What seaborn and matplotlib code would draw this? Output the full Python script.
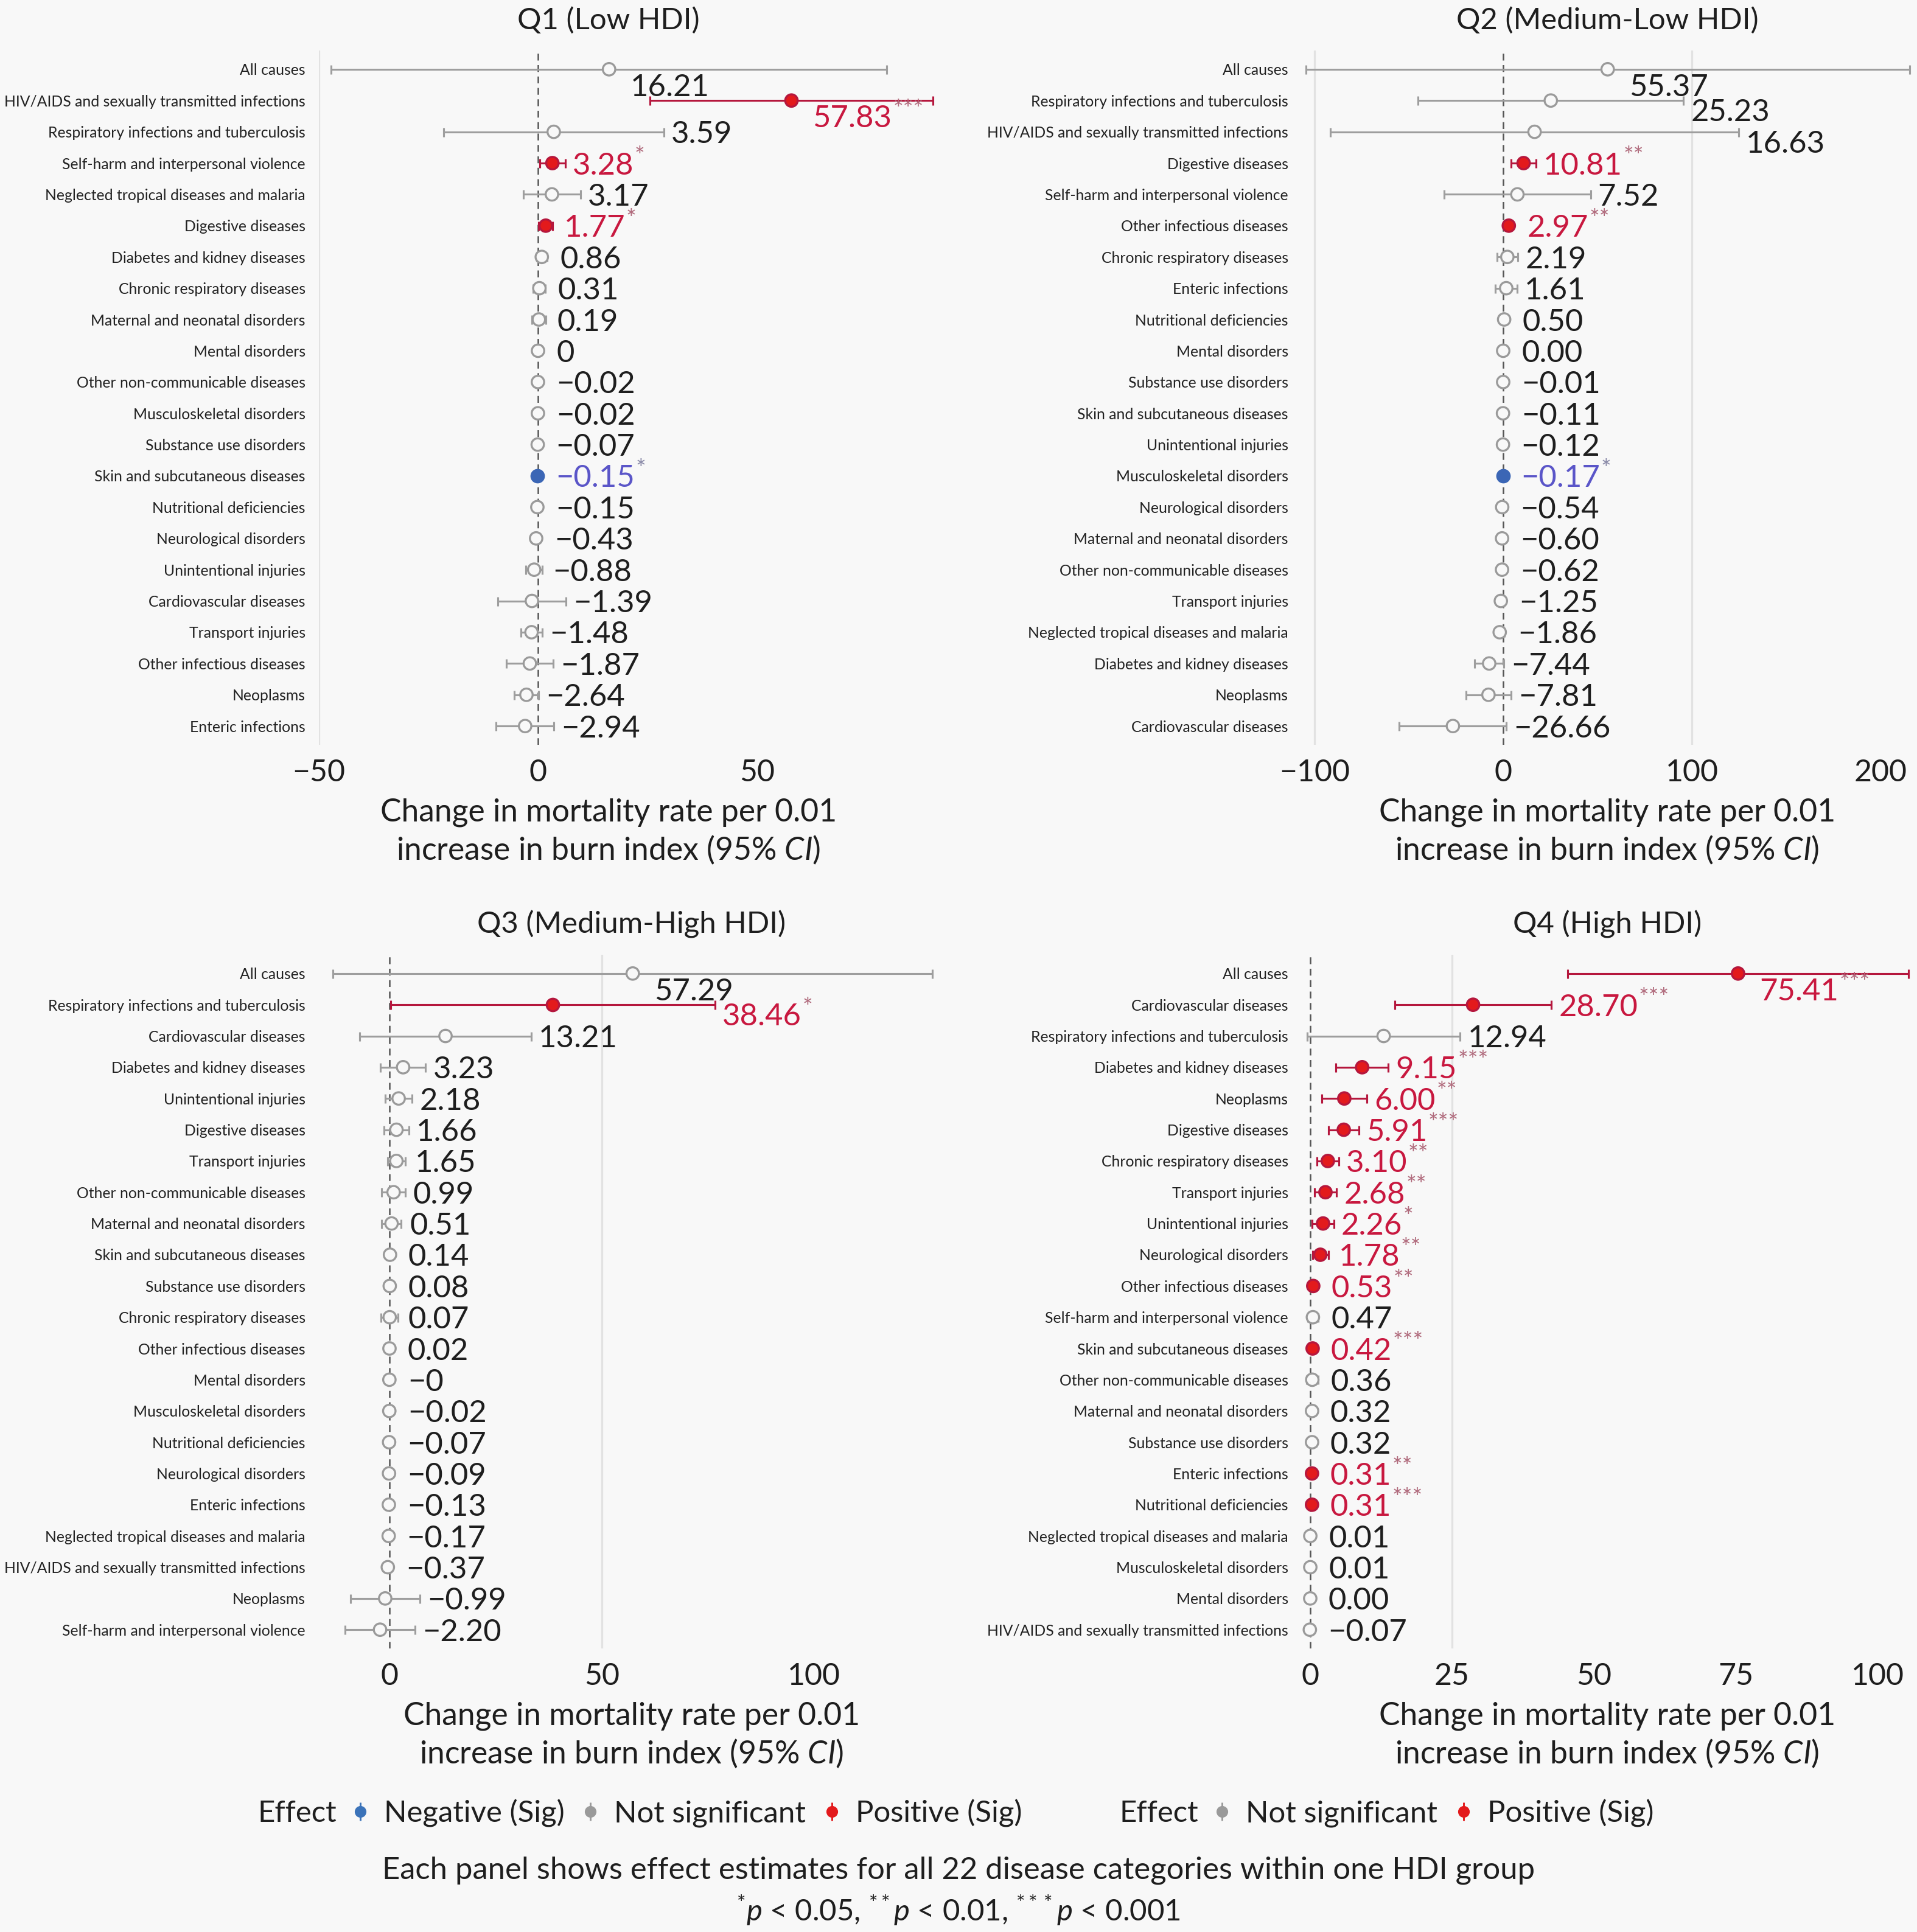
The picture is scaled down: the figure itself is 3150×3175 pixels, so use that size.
import matplotlib
matplotlib.use("Agg")
import numpy as np
import pandas as pd
import matplotlib.pyplot as plt
from matplotlib.lines import Line2D
from matplotlib.legend_handler import HandlerTuple
import seaborn as sns

# ---- data ----
causes_q1 = ["All causes", "HIV/AIDS and sexually transmitted infections",
             "Respiratory infections and tuberculosis", "Self-harm and interpersonal violence",
             "Neglected tropical diseases and malaria", "Digestive diseases",
             "Diabetes and kidney diseases", "Chronic respiratory diseases",
             "Maternal and neonatal disorders", "Mental disorders",
             "Other non-communicable diseases", "Musculoskeletal disorders",
             "Substance use disorders", "Skin and subcutaneous diseases",
             "Nutritional deficiencies", "Neurological disorders", "Unintentional injuries",
             "Cardiovascular diseases", "Transport injuries", "Other infectious diseases",
             "Neoplasms", "Enteric infections"]
labels_q1 = ["16.21", "57.83", "3.59", "3.28", "3.17", "1.77", "0.86", "0.31", "0.19", "0",
             "-0.02", "-0.02", "-0.07", "-0.15", "-0.15", "-0.43", "-0.88", "-1.39", "-1.48",
             "-1.87", "-2.64", "-2.94"]
lo_q1 = [-47.19, 25.53, -21.51, 0.38, -3.33, 0.17, -0.34, -1.09, -1.41, -0.40, -0.62, -0.42,
         -0.57, -0.28, -1.05, -1.33, -2.78, -9.19, -3.88, -7.17, -5.44, -9.54]
hi_q1 = [79.61, 90.13, 28.69, 6.18, 9.67, 3.37, 2.06, 1.71, 1.79, 0.40, 0.58, 0.38,
         0.43, -0.02, 0.75, 0.47, 1.02, 6.41, 0.92, 3.43, 0.16, 3.66]
stars_q1 = ["", "***", "", "*", "", "*", "", "", "", "", "", "", "", "*", "", "", "", "",
            "", "", "", ""]

causes_q2 = ["All causes", "Respiratory infections and tuberculosis",
             "HIV/AIDS and sexually transmitted infections", "Digestive diseases",
             "Self-harm and interpersonal violence", "Other infectious diseases",
             "Chronic respiratory diseases", "Enteric infections", "Nutritional deficiencies",
             "Mental disorders", "Substance use disorders", "Skin and subcutaneous diseases",
             "Unintentional injuries", "Musculoskeletal disorders", "Neurological disorders",
             "Maternal and neonatal disorders", "Other non-communicable diseases",
             "Transport injuries", "Neglected tropical diseases and malaria",
             "Diabetes and kidney diseases", "Neoplasms", "Cardiovascular diseases"]
labels_q2 = ["55.37", "25.23", "16.63", "10.81", "7.52", "2.97", "2.19", "1.61", "0.50", "0.00",
             "-0.01", "-0.11", "-0.12", "-0.17", "-0.54", "-0.60", "-0.62", "-1.25", "-1.86",
             "-7.44", "-7.81", "-26.66"]
lo_q2 = [-104.63, -45.17, -91.57, 4.21, -31.28, 1.77, -3.21, -4.19, -1.00, -0.60, -0.61, -0.81,
         -1.62, -0.27, -2.04, -2.20, -2.32, -3.25, -4.36, -15.24, -19.81, -55.06]
hi_q2 = [215.37, 95.63, 124.83, 17.41, 46.32, 4.17, 7.59, 7.41, 2.00, 0.60, 0.59, 0.59,
         1.38, -0.07, 0.96, 1.00, 1.08, 0.75, 0.64, 0.36, 4.19, 1.74]
stars_q2 = ["", "", "", "**", "", "**", "", "", "", "", "", "", "", "*", "", "", "", "",
            "", "", "", ""]

causes_q3 = ["All causes", "Respiratory infections and tuberculosis", "Cardiovascular diseases",
             "Diabetes and kidney diseases", "Unintentional injuries", "Digestive diseases",
             "Transport injuries", "Other non-communicable diseases",
             "Maternal and neonatal disorders", "Skin and subcutaneous diseases",
             "Substance use disorders", "Chronic respiratory diseases",
             "Other infectious diseases", "Mental disorders", "Musculoskeletal disorders",
             "Nutritional deficiencies", "Neurological disorders", "Enteric infections",
             "Neglected tropical diseases and malaria",
             "HIV/AIDS and sexually transmitted infections", "Neoplasms",
             "Self-harm and interpersonal violence"]
labels_q3 = ["57.29", "38.46", "13.21", "3.23", "2.18", "1.66", "1.65", "0.99", "0.51", "0.14",
             "0.08", "0.07", "0.02", "-0", "-0.02", "-0.07", "-0.09", "-0.13", "-0.17", "-0.37",
             "-0.99", "-2.20"]
lo_q3 = [-13.31, 0.26, -6.99, -2.07, -1.02, -1.24, -0.45, -1.81, -1.79, -0.56, -0.52, -1.93,
         -0.78, -0.50, -0.52, -0.77, -1.09, -0.83, -0.77, -1.17, -9.19, -10.45]
hi_q3 = [127.89, 76.66, 33.41, 8.53, 5.38, 4.56, 3.75, 3.79, 2.81, 0.84, 0.68, 2.07,
         0.82, 0.50, 0.48, 0.63, 0.91, 0.57, 0.43, 0.43, 7.21, 6.05]
stars_q3 = ["", "*", "", "", "", "", "", "", "", "", "", "", "", "", "", "", "", "", "", "",
            "", ""]

causes_q4 = ["All causes", "Cardiovascular diseases", "Respiratory infections and tuberculosis",
             "Diabetes and kidney diseases", "Neoplasms", "Digestive diseases",
             "Chronic respiratory diseases", "Transport injuries", "Unintentional injuries",
             "Neurological disorders", "Other infectious diseases",
             "Self-harm and interpersonal violence", "Skin and subcutaneous diseases",
             "Other non-communicable diseases", "Maternal and neonatal disorders",
             "Substance use disorders", "Enteric infections", "Nutritional deficiencies",
             "Neglected tropical diseases and malaria", "Musculoskeletal disorders",
             "Mental disorders", "HIV/AIDS and sexually transmitted infections"]
labels_q4 = ["75.41", "28.70", "12.94", "9.15", "6.00", "5.91", "3.10", "2.68", "2.26", "1.78",
             "0.53", "0.47", "0.42", "0.36", "0.32", "0.32", "0.31", "0.31", "0.01", "0.01",
             "0.00", "-0.07"]
lo_q4 = [45.41, 14.90, -0.56, 4.55, 2.00, 3.26, 1.20, 0.73, 0.36, 0.38, 0.23, -0.43, 0.22,
         -0.64, -0.38, -0.48, 0.16, 0.16, -0.49, -0.49, -0.50, -0.47]
hi_q4 = [105.41, 42.50, 26.44, 13.75, 10.00, 8.56, 5.00, 4.63, 4.16, 3.18, 0.83, 1.37, 0.62,
         1.36, 1.02, 1.12, 0.46, 0.46, 0.51, 0.51, 0.50, 0.33]
stars_q4 = ["***", "***", "", "***", "**", "***", "**", "**", "*", "**", "**", "", "***", "",
            "", "", "**", "***", "", "", "", ""]

PANELS = [
    dict(title="Q1 (Low HDI)", causes=causes_q1, labels=labels_q1, lo=lo_q1, hi=hi_q1, stars=stars_q1),
    dict(title="Q2 (Medium-Low HDI)", causes=causes_q2, labels=labels_q2, lo=lo_q2, hi=hi_q2, stars=stars_q2),
    dict(title="Q3 (Medium-High HDI)", causes=causes_q3, labels=labels_q3, lo=lo_q3, hi=hi_q3, stars=stars_q3),
    dict(title="Q4 (High HDI)", causes=causes_q4, labels=labels_q4, lo=lo_q4, hi=hi_q4, stars=stars_q4),
]

# axis settings per panel
XLIMS = [(-50, 82.2), (-106.8, 217.1), (-16.6, 130.7), (-1.5, 106.2)]
XTICKS = [[-50, 0, 50], [-100, 0, 100, 200], [0, 50, 100], [0, 25, 50, 75, 100]]
GRIDS = [[-50], [-100, 100], [50], [25]]
# panel boxes in pixels: left, top, right, bottom
BOXES = [(524, 83, 1476, 1224), (2139, 83, 3143, 1224),
         (524, 1569, 1552, 2709), (2139, 1569, 3143, 2709)]

XLABEL_1 = "Change in mortality rate per 0.01"
XLABEL_2 = r"increase in burn index (95% $\mathit{CI}$)"
CAPTION = "Each panel shows effect estimates for all 22 disease categories within one HDI group"
PNOTE = r"${}^{*}$$\mathit{p}$ < 0.05, ${}^{**}$$\mathit{p}$ < 0.01, ${}^{***}$$\mathit{p}$ < 0.001"

BG = "#f8f8f8"
DARK = "#1e1e1e"
EFFECTS = ["Negative (Sig)", "Not significant", "Positive (Sig)"]
STYLE = {
    "Negative (Sig)": dict(face="#3b66b5", edge="#3b66b5", line="#3b66b5", text="#5a55c8",
                           star="#8a8aa8", key="#3b73b9"),
    "Not significant": dict(face=BG, edge="#9a9a9a", line="#9e9e9e", text=DARK,
                            star="#8a8a8a", key="#9a9a9a"),
    "Positive (Sig)": dict(face="#e31a1c", edge="#b5173d", line="#b5173d", text="#c8183f",
                           star="#b06a7c", key="#e31a1c"),
}

sns.set_theme(style="white")
plt.rcParams["font.family"] = ["Lato", "DejaVu Sans"]
plt.rcParams["mathtext.fontset"] = "custom"
plt.rcParams["mathtext.rm"] = "Lato"
plt.rcParams["mathtext.it"] = "Lato:italic"
plt.rcParams["mathtext.bf"] = "Lato:bold"
plt.rcParams["axes.unicode_minus"] = True

W, H, DPI = 3150, 3175, 300
fig = plt.figure(figsize=(W / DPI, H / DPI), dpi=DPI)
fig.patch.set_facecolor(BG)
renderer = fig.canvas.get_renderer()


def fy(ypx):
    return 1 - ypx / H


legend_sets = []
for k, p in enumerate(PANELS):
    left, top, right, bottom = BOXES[k]
    ax = fig.add_axes([left / W, 1 - bottom / H, (right - left) / W, (bottom - top) / H])
    ax.set_facecolor(BG)

    df = pd.DataFrame({"cause": p["causes"], "label": p["labels"], "lo": p["lo"],
                       "hi": p["hi"], "stars": p["stars"]})
    df["est"] = df["label"].astype(float)
    df["row"] = np.arange(len(df))
    df["effect"] = np.where(df["stars"] == "", "Not significant",
                            np.where(df["est"] > 0, "Positive (Sig)", "Negative (Sig)"))

    present = [e for e in EFFECTS if e in set(df["effect"])]
    if present not in legend_sets:
        legend_sets.append(present)

    # reference lines
    for g in GRIDS[k]:
        ax.axvline(g, color="#e2e2e2", lw=0.8, zorder=0)
    ax.axvline(0, color="#555555", lw=0.6, ls=(0, (4.5, 3)), zorder=1)

    # CIs and points
    for eff, g in df.groupby("effect"):
        st = STYLE[eff]
        eb = ax.errorbar(g["est"], g["row"], xerr=[g["est"] - g["lo"], g["hi"] - g["est"]],
                         fmt="none", ecolor=st["line"], elinewidth=0.75, capsize=1.8,
                         capthick=0.75, zorder=2)
        for art in eb.lines[1] + eb.lines[2]:
            art.set_clip_on(False)
        sns.scatterplot(data=g, x="est", y="row", hue="effect", palette={eff: st["face"]},
                        edgecolor=st["edge"], linewidth=0.8, s=24, legend=False, ax=ax,
                        zorder=3, clip_on=False)

    ax.set_xlim(XLIMS[k])
    ax.set_ylim(len(df) - 0.4, -0.6)
    ax.set_xticks(XTICKS[k])
    ax.set_yticks(df["row"])
    ax.set_yticklabels(df["cause"])
    ax.set_xlabel("")
    ax.set_ylabel("")
    ax.tick_params(axis="y", length=0, pad=5.3, labelsize=5.95, labelcolor="#222222")
    ax.tick_params(axis="x", length=0, pad=5.5, labelsize=12, labelcolor=DARK)
    sns.despine(ax=ax, left=True, bottom=True)

    # value labels, pushed right of the CI; moved under the point when they run out
    ppu = (right - left) / (XLIMS[k][1] - XLIMS[k][0])
    placed = []
    for r in df.itertuples():
        st = STYLE[r.effect]
        x = max(r.hi + 12 / ppu, r.est + 30 / ppu)
        t = ax.text(x, r.row, r.label.replace("-", "\u2212"), color=st["text"],
                    fontsize=12.2, ha="left", va="center_baseline", zorder=4, clip_on=False)
        bb = t.get_window_extent(renderer)
        if bb.x1 > right:
            t.set_position((r.est + 35 / ppu, r.row + 0.5))
            bb = t.get_window_extent(renderer)
        if any(bb.overlaps(b) for b in placed):
            t.set_position((t.get_position()[0], t.get_position()[1] + 0.3))
            bb = t.get_window_extent(renderer)
        placed.append(bb)
        if r.stars:
            ax.annotate(r.stars, xy=(1, 0.8), xycoords=t, xytext=(0.4, 0),
                        textcoords="offset points", fontsize=9.5, color=st["star"],
                        ha="left", va="center", annotation_clip=False)

    cx = (left + right) / 2 / W
    fig.text(cx, fy(top - 50), p["title"], ha="center", va="center", fontsize=11.8, color=DARK)
    fig.text(cx, fy(bottom + 111), XLABEL_1, ha="center", va="center", fontsize=12.4, color=DARK)
    fig.text(cx, fy(bottom + 173), XLABEL_2, ha="center", va="center", fontsize=12.4, color=DARK)

# legends side by side, each with an inline "Effect" title
LEG_Y = 2980
LEG_POS = [(423, 578), (1839, 1994)]
for (tx, lx), effs in zip(LEG_POS, legend_sets):
    fig.text(tx / W, fy(LEG_Y), "Effect", ha="left", va="center", fontsize=11.8, color=DARK)
    handles = []
    for e in effs:
        c = STYLE[e]["key"]
        handles.append((Line2D([], [], ls="none", marker="|", markersize=7, mew=0.7, color=c),
                        Line2D([], [], ls="none", marker="o", markersize=3.6, color=c)))
    fig.legend(handles, effs, loc="center left", bbox_to_anchor=(lx / W, fy(LEG_Y)),
               ncol=len(effs), frameon=False, fontsize=11.8, handlelength=0.55,
               handletextpad=0.52, columnspacing=0.6, borderpad=0, borderaxespad=0,
               handler_map={tuple: HandlerTuple(ndivide=1)}, labelcolor=DARK)

fig.text(0.5, fy(3074), CAPTION, ha="center", va="center", fontsize=12.2, color=DARK)
fig.text(0.5, fy(3139), PNOTE, ha="center", va="center", fontsize=11.8, color=DARK)

fig.savefig("out.png", dpi=DPI, facecolor=BG)
